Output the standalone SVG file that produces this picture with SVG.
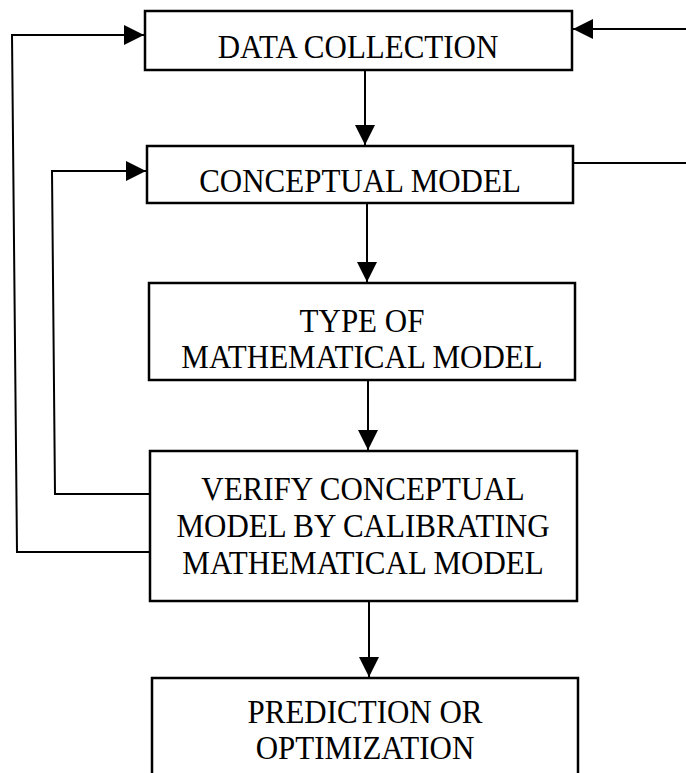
<svg xmlns="http://www.w3.org/2000/svg" width="686" height="773" viewBox="0 0 686 773">
  <defs>
    <style>
      .box { fill: #ffffff; stroke: #000000; stroke-width: 2.5; }
      .lbl { font-family: "Liberation Serif", "Times New Roman", serif; font-size: 31px; fill: #000000; text-anchor: middle; }
      .conn { fill: none; stroke: #000000; stroke-width: 2; }
    </style>
    <marker id="arrow" viewBox="0 0 20 20" refX="20" refY="10" markerWidth="20" markerHeight="20" markerUnits="userSpaceOnUse" orient="auto">
      <path d="M0,0 L20,10 L0,20 Z" fill="#000000"/>
    </marker>
  </defs>
  <rect width="686" height="773" fill="#ffffff"/>

  <g id="connectors">
    <path class="conn" d="M365,70 L365,145" marker-end="url(#arrow)"/>
    <path class="conn" d="M367,204 L367,282" marker-end="url(#arrow)"/>
    <path class="conn" d="M368,381 L368,450" marker-end="url(#arrow)"/>
    <path class="conn" d="M369,602 L369,677" marker-end="url(#arrow)"/>
    <path class="conn" d="M686,29 L573,29" marker-end="url(#arrow)"/>
    <path class="conn" d="M573,163 L686,163"/>
    <path class="conn" d="M150,494 L55,494 L52,171 L146,171" marker-end="url(#arrow)"/>
    <path class="conn" d="M150,552 L17,552 L12,35 L144,35" marker-end="url(#arrow)"/>
  </g>

  <g id="data-collection">
    <rect class="box" x="145" y="11" width="427" height="59"/>
    <text class="lbl" transform="translate(358,58) scale(1,1.1)">DATA COLLECTION</text>
  </g>

  <g id="conceptual-model">
    <rect class="box" x="147" y="146" width="426" height="57"/>
    <text class="lbl" transform="translate(360,192) scale(1,1.1)">CONCEPTUAL MODEL</text>
  </g>

  <g id="type-of-model">
    <rect class="box" x="149" y="283" width="426" height="97"/>
    <text class="lbl" transform="translate(362,332) scale(1,1.1)">TYPE OF</text>
    <text class="lbl" transform="translate(362,368) scale(1,1.1)">MATHEMATICAL MODEL</text>
  </g>

  <g id="verify">
    <rect class="box" x="150" y="451" width="427" height="150"/>
    <text class="lbl" transform="translate(363,500) scale(1,1.1)">VERIFY CONCEPTUAL</text>
    <text class="lbl" transform="translate(363,537) scale(1,1.1)">MODEL BY CALIBRATING</text>
    <text class="lbl" transform="translate(363,574) scale(1,1.1)">MATHEMATICAL MODEL</text>
  </g>

  <g id="prediction">
    <rect class="box" x="152" y="678" width="426" height="110"/>
    <text class="lbl" transform="translate(365,723) scale(1,1.1)">PREDICTION OR</text>
    <text class="lbl" transform="translate(365,759) scale(1,1.1)">OPTIMIZATION</text>
  </g>
</svg>
